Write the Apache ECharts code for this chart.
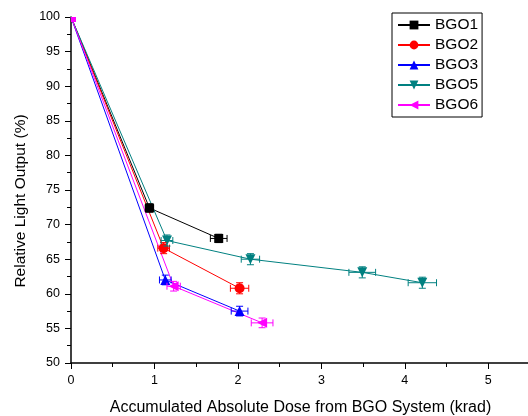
<!DOCTYPE html>
<html>
<head>
<meta charset="utf-8">
<script src="https://cdn.jsdelivr.net/npm/echarts@6/dist/echarts.min.js"></script>
<style>html,body{margin:0;padding:0;background:#fff}#c{width:528px;height:416px}</style>
</head>
<body>
<div id="c"></div>
<script>
const seriesNames = ['BGO1', 'BGO2', 'BGO3', 'BGO5', 'BGO6'];
const bgo1X = [0, 0.94, 1.77];
const bgo1Y = [100, 72.4, 68.0];
const bgo1XErr = [0, 0.05, 0.10];
const bgo1YErr = [0, 0.6, 0.6];
const bgo2X = [0, 1.11, 2.02];
const bgo2Y = [100, 66.6, 60.8];
const bgo2XErr = [0, 0.07, 0.11];
const bgo2YErr = [0, 0.8, 0.8];
const bgo3X = [0, 1.13, 2.02];
const bgo3Y = [100, 62.0, 57.5];
const bgo3XErr = [0, 0.07, 0.10];
const bgo3YErr = [0, 0.7, 0.7];
const bgo5X = [0, 1.15, 2.15, 3.49, 4.21];
const bgo5Y = [100, 67.7, 65.0, 63.1, 61.6];
const bgo5XErr = [0, 0.07, 0.11, 0.16, 0.17];
const bgo5YErr = [0, 0.8, 0.8, 0.8, 0.8];
const bgo6X = [0, 1.23, 2.29];
const bgo6Y = [100, 61.1, 55.8];
const bgo6XErr = [0, 0.08, 0.13];
const bgo6YErr = [0, 0.7, 0.7];

const FONT = "'Liberation Sans', Arial, sans-serif";
const colors = ['#000000', '#ff0000', '#0000ff', '#008080', '#ff00ff'];
const symbols = ['rect', 'circle', 'triangle', 'triangle', 'triangle'];
const rotations = [0, 0, 0, 180, 90];
const symbolSizes = [9, 10, 10, 10, 10];
const xs = [bgo1X, bgo2X, bgo3X, bgo5X, bgo6X];
const ys = [bgo1Y, bgo2Y, bgo3Y, bgo5Y, bgo6Y];
const xe = [bgo1XErr, bgo2XErr, bgo3XErr, bgo5XErr, bgo6XErr];
const ye = [bgo1YErr, bgo2YErr, bgo3YErr, bgo5YErr, bgo6YErr];

function errRender(color) {
  return function (params, api) {
    const x = api.value(0), y = api.value(1), dx = api.value(2), dy = api.value(3);
    const children = [];
    const cap = 3.5;
    const st = { stroke: color, lineWidth: 1 };
    if (dx > 0) {
      const l = api.coord([x - dx, y]), r = api.coord([x + dx, y]);
      children.push({ type: 'line', shape: { x1: l[0], y1: l[1], x2: r[0], y2: r[1] }, style: st });
      children.push({ type: 'line', shape: { x1: l[0], y1: l[1] - cap, x2: l[0], y2: l[1] + cap }, style: st });
      children.push({ type: 'line', shape: { x1: r[0], y1: r[1] - cap, x2: r[0], y2: r[1] + cap }, style: st });
    }
    if (dy > 0) {
      const t = api.coord([x, y + dy]), b = api.coord([x, y - dy]);
      children.push({ type: 'line', shape: { x1: t[0], y1: t[1], x2: b[0], y2: b[1] }, style: st });
      children.push({ type: 'line', shape: { x1: t[0] - cap, y1: t[1], x2: t[0] + cap, y2: t[1] }, style: st });
      children.push({ type: 'line', shape: { x1: b[0] - cap, y1: b[1], x2: b[0] + cap, y2: b[1] }, style: st });
    }
    return { type: 'group', children: children };
  };
}

const series = [];
seriesNames.forEach((n, i) => {
  const last = i === seriesNames.length - 1;
  series.push({
    name: n,
    type: 'line',
    data: xs[i].map((x, j) => {
      if (j === 0) {
        // point at the plot corner: only the in-plot quarter of the marker is visible
        return last
          ? { value: [x, ys[i][j]], symbol: 'rect', symbolSize: 5, symbolRotate: 0, symbolOffset: [2.5, 2.5] }
          : { value: [x, ys[i][j]], symbol: 'none' };
      }
      return [x, ys[i][j]];
    }),
    symbol: symbols[i],
    symbolRotate: rotations[i],
    symbolSize: symbolSizes[i],
    showAllSymbol: true,
    lineStyle: { color: colors[i], width: 1 },
    itemStyle: { color: colors[i] },
    emphasis: { disabled: true },
    animation: false,
    z: 3
  });
  series.push({
    name: n + ' err',
    type: 'custom',
    data: xs[i].map((x, j) => [x, ys[i][j], xe[i][j], ye[i][j]]),
    renderItem: errRender(colors[i]),
    encode: { x: 0, y: 1 },
    animation: false,
    z: 4
  });
});

const chart = echarts.init(document.getElementById('c'), null, { renderer: 'canvas' });
chart.setOption({
  animation: false,
  backgroundColor: '#fff',
  textStyle: { fontFamily: FONT },
  grid: { left: 71, top: 17, width: 459, height: 346, containLabel: false, outerBoundsMode: 'none' },
  legend: {
    data: seriesNames,
    orient: 'vertical',
    left: 392,
    top: 13,
    padding: [4, 4, 4, 5],
    itemGap: 4,
    itemWidth: 32,
    itemHeight: 11,
    borderColor: '#000',
    borderWidth: 1,
    textStyle: { fontSize: 15.5, color: '#000', fontFamily: FONT },
    selectedMode: false
  },
  xAxis: {
    type: 'value',
    min: 0, max: 5.5, interval: 1,
    name: 'Accumulated Absolute Dose from BGO System (krad)',
    nameLocation: 'middle', nameGap: 37,
    nameTextStyle: { fontSize: 16, color: '#000', fontFamily: FONT },
    axisLine: { show: true, onZero: false, lineStyle: { color: '#000', width: 1.5 } },
    axisTick: { show: true, inside: false, length: 6, lineStyle: { color: '#000', width: 1 } },
    minorTick: { show: true, splitNumber: 2, length: 4, lineStyle: { color: '#000', width: 1 } },
    axisLabel: { fontSize: 12.5, color: '#000', margin: 11, fontFamily: FONT,
      formatter: v => (Math.abs(v - Math.round(v)) < 1e-9 ? String(Math.round(v)) : '') },
    splitLine: { show: false }
  },
  yAxis: {
    type: 'value',
    min: 50, max: 100, interval: 5,
    name: 'Relative Light Output (%)',
    nameLocation: 'middle', nameGap: 39,
    nameTextStyle: { fontSize: 15.5, color: '#000', fontFamily: FONT, padding: [0, 22, 0, 0] },
    axisLine: { show: true, lineStyle: { color: '#000', width: 1.5 } },
    axisTick: { show: true, inside: false, length: 6, lineStyle: { color: '#000', width: 1 } },
    minorTick: { show: true, splitNumber: 2, length: 4, lineStyle: { color: '#000', width: 1 } },
    axisLabel: { fontSize: 12.5, color: '#000', margin: 11, fontFamily: FONT },
    splitLine: { show: false }
  },
  series: series
});
</script>
</body>
</html>
